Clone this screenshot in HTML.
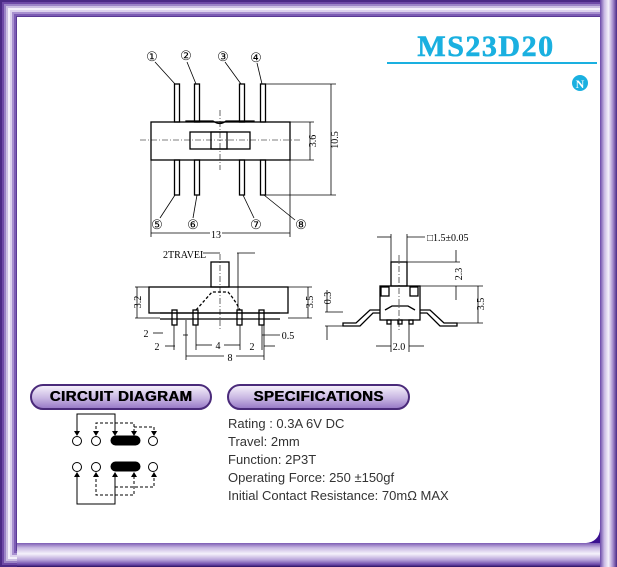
<!DOCTYPE html>
<html><head><meta charset="utf-8"><style>
html,body{margin:0;padding:0;background:#fff}
#f{position:absolute;left:0;top:0;width:617px;height:567px;overflow:hidden;background:#fff}
svg{position:absolute;left:0;top:0}
.badge{position:absolute;height:22px;border:2px solid #4a2a7a;border-radius:13px;
background:linear-gradient(#f4effa,#c8b6e2 55%,#9a7cc8);font:bold 15px "Liberation Sans",sans-serif;
color:#000;text-align:center;line-height:22px;letter-spacing:0.4px;text-shadow:0.5px 0 0 #000}
.spec{position:absolute;left:228px;font:13px "Liberation Sans",sans-serif;color:#333}
</style></head><body><div id="f">
<div style="position:absolute;left:0;top:0;width:617px;height:567px;box-shadow:inset 0 0 0 2px #4b2a85,inset 0 0 0 4px #6e4aa6,inset 0 0 0 6px #9b84c6,inset 0 0 0 8px #cbbfe2,inset 0 0 0 10px #f3f0fa,inset 0 0 0 12px #ddd3ee,inset 0 0 0 14px #a890d0,inset 0 0 0 16px #7c5cb4,inset 0 0 0 17px #5a3a96"></div>
<div style="position:absolute;left:17px;top:543px;width:600px;height:24px;background:linear-gradient(#7c5cb4,#c8b8e2 20%,#f5f2fb 45%,#b8a4da 70%,#6a48a8 90%,#2a1060)"></div>
<div style="position:absolute;left:600px;top:0;width:17px;height:567px;background:linear-gradient(90deg,#6a48a8,#c8b8e2 25%,#f5f2fb 50%,#a890d0 75%,#4b2a85)"></div>
<div style="position:absolute;left:580px;top:528px;width:20px;height:15px;background:#3a1090"></div>
<div style="position:absolute;left:17px;top:17px;width:583px;height:526px;background:#fff;border-bottom-right-radius:14px"></div>

<svg width="617" height="567" viewBox="0 0 617 567" font-family="Liberation Serif,serif" fill="none" stroke="#000" stroke-width="1">
<text x="486" y="56" font-size="30" font-weight="bold" fill="#1ab0e0" stroke="#1ab0e0" stroke-width="0.6" text-anchor="middle" letter-spacing="1.5">MS23D20</text>
<line x1="387" y1="63" x2="597" y2="63" stroke="#1ab0e0" stroke-width="2"/>
<circle cx="580" cy="83" r="8" fill="#1ab0e0" stroke="none"/>
<text x="580" y="88" font-size="12" font-weight="bold" fill="#fff" stroke="none" text-anchor="middle">N</text>

<g font-size="13" fill="#000" stroke="none" text-anchor="middle">
<text x="152" y="61">①</text><text x="186" y="60">②</text><text x="223" y="61">③</text><text x="256" y="62">④</text>
<text x="157" y="229">⑤</text><text x="193" y="229">⑥</text><text x="256" y="229">⑦</text><text x="301" y="229">⑧</text>
<text x="216" y="238" font-size="10">13</text>
</g>
<g stroke-width="0.8">
<line x1="155" y1="62" x2="175" y2="84"/><line x1="187" y1="62" x2="196" y2="84"/><line x1="225" y1="62" x2="241" y2="84"/><line x1="257" y1="63" x2="262" y2="84"/>
<line x1="160" y1="218" x2="175" y2="195"/><line x1="193" y1="218" x2="197" y2="195"/><line x1="254" y1="218" x2="243" y2="195"/><line x1="295" y1="220" x2="264" y2="195"/>
</g>
<g stroke-width="1.3">
<rect x="174.5" y="84" width="5" height="38"/><rect x="194.5" y="84" width="5" height="38"/><rect x="239.5" y="84" width="5" height="38"/><rect x="260.5" y="84" width="5" height="38"/>
<rect x="174.5" y="160" width="5" height="35"/><rect x="194.5" y="160" width="5" height="35"/><rect x="239.5" y="160" width="5" height="35"/><rect x="260.5" y="160" width="5" height="35"/>
<rect x="151" y="122" width="139" height="38"/>
<rect x="190" y="132" width="60" height="17"/><rect x="211" y="132" width="16" height="17"/>
<path d="M186 122 L186 121 L213 121 Q220 126 226 121 L254 121 L254 122"/>
</g>
<line x1="140" y1="140" x2="300" y2="140" stroke-width="0.6" stroke-dasharray="6 2 1 2"/>
<line x1="220" y1="110" x2="220" y2="170" stroke-width="0.6" stroke-dasharray="6 2 1 2"/>
<g stroke-width="0.8">
<line x1="266" y1="84" x2="336" y2="84"/><line x1="266" y1="195" x2="336" y2="195"/><line x1="331" y1="84" x2="331" y2="195"/>
<line x1="290" y1="122" x2="314" y2="122"/><line x1="290" y1="160" x2="314" y2="160"/><line x1="310" y1="122" x2="310" y2="160"/>
<line x1="151" y1="160" x2="151" y2="237"/><line x1="290" y1="160" x2="290" y2="237"/><line x1="151" y1="233" x2="210" y2="233"/><line x1="222" y1="233" x2="290" y2="233"/>
</g>
<g font-size="10" fill="#000" stroke="none">
<text transform="translate(338,140) rotate(-90)" text-anchor="middle">10.5</text>
<text transform="translate(316,141) rotate(-90)" text-anchor="middle">3.6</text>
</g>

<g stroke-width="1.3">
<rect x="211" y="262" width="18" height="25"/>
<rect x="149" y="287" width="139" height="26"/>
<line x1="160" y1="313" x2="280" y2="313"/><line x1="160" y1="319" x2="280" y2="319"/>
<rect x="172" y="310" width="5" height="15"/><rect x="193" y="310" width="5" height="15"/><rect x="237" y="310" width="5" height="15"/><rect x="259" y="310" width="5" height="15"/>
<path d="M196 310 Q205 300 212 292 L228 292 Q235 300 240 310" stroke-dasharray="3 2"/>
</g>
<line x1="220" y1="254" x2="220" y2="330" stroke-width="0.6" stroke-dasharray="6 2 1 2"/>
<g stroke-width="0.8">
<line x1="203" y1="253" x2="220" y2="253"/><line x1="237" y1="253" x2="255" y2="253"/><line x1="238" y1="253" x2="238" y2="310"/>
<line x1="135" y1="287" x2="149" y2="287"/><line x1="135" y1="318" x2="160" y2="318"/><line x1="137" y1="287" x2="137" y2="318"/>
<line x1="288" y1="287" x2="312" y2="287"/><line x1="288" y1="318" x2="312" y2="318"/><line x1="308" y1="287" x2="308" y2="318"/>
<line x1="183" y1="335" x2="188" y2="335"/><line x1="153" y1="333" x2="163" y2="333"/><line x1="165" y1="346" x2="175" y2="346"/>
<line x1="174" y1="325" x2="174" y2="350"/><line x1="186" y1="320" x2="186" y2="360"/><line x1="196" y1="325" x2="196" y2="350"/><line x1="240" y1="325" x2="240" y2="350"/><line x1="262" y1="325" x2="262" y2="350"/><line x1="264" y1="325" x2="264" y2="360"/>
<line x1="196" y1="345" x2="212" y2="345"/><line x1="224" y1="345" x2="240" y2="345"/>
<line x1="264" y1="346" x2="275" y2="346"/><line x1="262" y1="335" x2="280" y2="335"/>
<line x1="186" y1="356" x2="224" y2="356"/><line x1="236" y1="356" x2="264" y2="356"/>
</g>
<g font-size="10" fill="#000" stroke="none">
<text x="163" y="258">2TRAVEL</text>
<text transform="translate(141,302) rotate(-90)" text-anchor="middle">3.2</text>
<text transform="translate(313,302) rotate(-90)" text-anchor="middle">3.5</text>
<text x="146" y="337" text-anchor="middle">2</text><text x="157" y="350" text-anchor="middle">2</text>
<text x="218" y="349" text-anchor="middle">4</text><text x="252" y="350" text-anchor="middle">2</text>
<text x="288" y="339" text-anchor="middle">0.5</text><text x="230" y="361" text-anchor="middle">8</text>
</g>

<g stroke-width="1.3">
<rect x="391" y="262" width="16" height="24"/>
<rect x="380" y="286" width="40" height="34"/>
<rect x="381" y="287" width="8" height="9"/><rect x="410" y="287" width="8" height="9"/>
<path d="M380 310 L370 310 L356 323 L343 323 L343 326 L360 326 L373 313 L380 313"/>
<path d="M420 310 L430 310 L444 323 L457 323 L457 326 L440 326 L427 313 L420 313"/>
<path d="M385 310 L392 306 L408 306 L415 310"/>
<rect x="387" y="320" width="4" height="4"/><rect x="398" y="320" width="4" height="4"/><rect x="409" y="320" width="4" height="4"/>
</g>
<line x1="399" y1="255" x2="399" y2="330" stroke-width="0.6" stroke-dasharray="6 2 1 2"/>
<g stroke-width="0.8">
<line x1="391" y1="234" x2="391" y2="262"/><line x1="407" y1="234" x2="407" y2="262"/>
<line x1="377" y1="237" x2="391" y2="237"/><line x1="407" y1="237" x2="425" y2="237"/>
<line x1="407" y1="262" x2="460" y2="262"/><line x1="420" y1="286" x2="483" y2="286"/><line x1="457" y1="323" x2="483" y2="323"/>
<line x1="456" y1="250" x2="456" y2="262"/><line x1="456" y1="286" x2="456" y2="300"/>
<line x1="478" y1="286" x2="478" y2="323"/>
<line x1="325" y1="312" x2="343" y2="312"/><line x1="325" y1="326" x2="343" y2="326"/><line x1="327" y1="290" x2="327" y2="312"/><line x1="327" y1="326" x2="327" y2="340"/>
<line x1="391" y1="324" x2="391" y2="352"/><line x1="409" y1="324" x2="409" y2="352"/>
<line x1="376" y1="346" x2="391" y2="346"/><line x1="409" y1="346" x2="424" y2="346"/>
</g>
<g font-size="10" fill="#000" stroke="none">
<text x="427" y="241">□1.5±0.05</text>
<text transform="translate(462,274) rotate(-90)" text-anchor="middle">2.3</text>
<text transform="translate(484,304) rotate(-90)" text-anchor="middle">3.5</text>
<text transform="translate(331,298) rotate(-90)" text-anchor="middle">0.3</text>
<text x="399" y="350" text-anchor="middle">2.0</text>
</g>

<g stroke-width="1">
<circle cx="77" cy="441" r="4.5"/><circle cx="96" cy="441" r="4.5"/><circle cx="153" cy="441" r="4.5"/>
<circle cx="77" cy="467" r="4.5"/><circle cx="96" cy="467" r="4.5"/><circle cx="153" cy="467" r="4.5"/>
<rect x="111" y="436" width="29" height="9" rx="4.5" fill="#000"/><rect x="111" y="462" width="29" height="9" rx="4.5" fill="#000"/>
<path d="M77 434 L77 414 L115 414 L115 434"/>
<path d="M77 474 L77 504 L115 504 L115 474"/>
<path d="M96 434 L96 423 L134 423 L134 434 M134 427 L154 427 L154 434" stroke-dasharray="3 2"/>
<path d="M96 474 L96 495 L134 495 L134 474 M115 487 L154 487 L154 474" stroke-dasharray="3 2"/>
</g>
<g fill="#000" stroke="none">
<path d="M74 431 L80 431 L77 436Z M93 431 L99 431 L96 436Z M112 431 L118 431 L115 436Z M131 431 L137 431 L134 436Z M151 431 L157 431 L154 436Z"/>
<path d="M74 477 L80 477 L77 472Z M93 477 L99 477 L96 472Z M112 477 L118 477 L115 472Z M131 477 L137 477 L134 472Z M151 477 L157 477 L154 472Z"/>
</g>
</svg>
<div class="badge" style="left:30px;top:384px;width:178px">CIRCUIT DIAGRAM</div>
<div class="badge" style="left:227px;top:384px;width:179px">SPECIFICATIONS</div>
<div class="spec" style="top:416px">Rating : 0.3A 6V DC</div>
<div class="spec" style="top:434px">Travel: 2mm</div>
<div class="spec" style="top:452px">Function: 2P3T</div>
<div class="spec" style="top:470px">Operating Force: 250 ±150gf</div>
<div class="spec" style="top:488px">Initial Contact Resistance: 70mΩ MAX</div>
</div></body></html>
